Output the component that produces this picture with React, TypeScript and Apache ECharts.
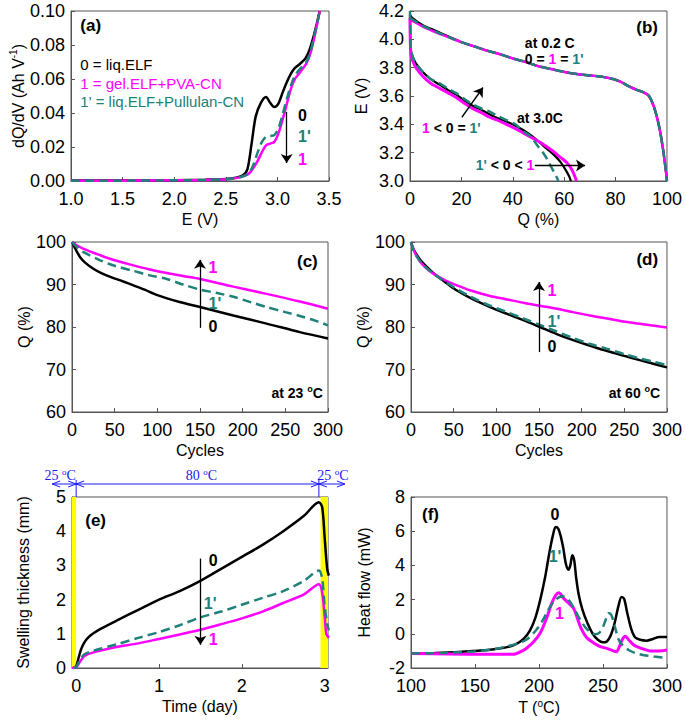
import React, { useEffect, useRef } from 'react';
import * as echarts from 'echarts';

const FONT = 'Arial, "Liberation Sans", Helvetica, sans-serif';
const SERIF = '"Times New Roman", "Liberation Serif", serif';
const BLACK = '#000000';
const MAGENTA = '#FF00FF';
const TEAL = '#20807A';
const AXIS = '#555555';
const BLUE = '#1A1AF0';

// (a) dQ/dV vs E
const aBlack = [[1.0,0.0003],[1.5,0.0003],[2.0,0.0005],[2.3,0.0008],[2.5,0.0012],[2.6,0.002],[2.67,0.0035],[2.71,0.007],[2.75,0.022],[2.79,0.038],[2.84,0.046],[2.89,0.0494],[2.93,0.046],[2.97,0.0435],[3.01,0.0455],[3.05,0.052],[3.09,0.058],[3.13,0.063],[3.17,0.0665],[3.22,0.069],[3.27,0.072],[3.31,0.077],[3.35,0.085],[3.38,0.092],[3.41,0.1]];
const aMagenta = [[1.0,0.0002],[1.5,0.0002],[2.0,0.0004],[2.3,0.0006],[2.5,0.001],[2.6,0.0017],[2.68,0.003],[2.73,0.0047],[2.77,0.008],[2.81,0.012],[2.85,0.017],[2.89,0.021],[2.93,0.022],[2.97,0.023],[3.01,0.028],[3.05,0.036],[3.09,0.045],[3.13,0.054],[3.17,0.06],[3.22,0.064],[3.28,0.069],[3.32,0.075],[3.36,0.085],[3.39,0.094],[3.41,0.1]];
const aTeal = [[1.0,0.0002],[1.5,0.0002],[2.0,0.0004],[2.3,0.0006],[2.5,0.001],[2.6,0.0017],[2.68,0.003],[2.73,0.005],[2.77,0.01],[2.81,0.017],[2.85,0.023],[2.89,0.026],[2.93,0.0265],[2.97,0.027],[3.01,0.031],[3.05,0.039],[3.09,0.048],[3.13,0.056],[3.17,0.062],[3.22,0.066],[3.28,0.07],[3.32,0.076],[3.36,0.086],[3.39,0.094],[3.41,0.1]];

// (b) E vs Q, 0.2 C and 3.0 C
const b02Black = [[0,4.17],[1,4.15],[5,4.1],[10,4.06],[15,4.02],[20,3.98],[25,3.95],[30,3.92],[35,3.895],[40,3.865],[45,3.84],[50,3.81],[55,3.79],[60,3.77],[65,3.755],[70,3.745],[75,3.735],[79,3.72],[82,3.7],[85,3.67],[88,3.645],[91,3.625],[93,3.6],[95,3.52],[97,3.38],[98.5,3.22],[99.5,3.08],[100,3.0]];
const b02Magenta = [[0,4.14],[1,4.13],[5,4.09],[10,4.05],[15,4.015],[20,3.98],[25,3.95],[30,3.92],[35,3.895],[40,3.865],[45,3.84],[50,3.81],[55,3.79],[60,3.77],[65,3.755],[70,3.745],[75,3.735],[79,3.72],[82,3.7],[85,3.67],[88,3.645],[91,3.625],[93,3.6],[95,3.52],[97,3.38],[98.5,3.22],[99.5,3.08],[100,3.0]];
const b02Teal = [[0,4.15],[1,4.14],[5,4.095],[10,4.055],[15,4.015],[20,3.98],[25,3.95],[30,3.92],[35,3.895],[40,3.865],[45,3.84],[50,3.81],[55,3.79],[60,3.77],[65,3.755],[70,3.745],[75,3.735],[79,3.72],[82,3.7],[85,3.67],[88,3.645],[91,3.625],[93,3.6],[95,3.52],[97,3.38],[98.5,3.22],[99.5,3.08],[100,3.0]];
const b30Black = [[0,4.18],[0.3,3.93],[1,3.88],[2.3,3.83],[5,3.77],[8,3.72],[11.5,3.68],[15,3.64],[18,3.61],[21,3.57],[24.5,3.53],[28,3.5],[31,3.47],[34,3.445],[37.5,3.42],[41,3.39],[44,3.36],[48,3.31],[51.8,3.25],[55.7,3.19],[58.3,3.14],[60.5,3.08],[62,3.03],[62.6,3.0]];
const b30Magenta = [[0,4.15],[0.3,3.9],[1,3.85],[2.3,3.8],[5,3.74],[8,3.69],[11.5,3.655],[15,3.62],[18,3.59],[21,3.55],[24.5,3.51],[28,3.48],[31,3.45],[34,3.43],[37.5,3.4],[41,3.37],[44,3.34],[48,3.3],[51.8,3.26],[55.7,3.21],[58.3,3.17],[61,3.13],[63,3.08],[64.2,3.03],[64.8,3.0]];
const b30Teal = [[0,4.2],[0.3,3.94],[1,3.88],[2.3,3.83],[5,3.77],[8,3.72],[11.5,3.69],[15,3.65],[18,3.62],[21,3.58],[24.5,3.54],[28,3.51],[31,3.49],[34,3.46],[37.5,3.43],[41,3.4],[44,3.35],[46,3.33],[48,3.29],[50,3.24],[51.8,3.2],[53.5,3.15],[55.5,3.08],[57,3.03],[57.7,3.0]];

// (c) Q vs cycles at 23 C
const cBlack = [[0,100],[3,98.8],[6,97.6],[10,96.3],[15,95.2],[25,93.7],[35,92.6],[45,91.8],[60,90.7],[72,89.8],[85,88.8],[100,87.5],[126,85.9],[150,84.7],[189,82.7],[228,80.8],[267,78.8],[300,77.3]];
const cMagenta = [[0,100],[5,99.3],[13.6,98.4],[33,96.9],[50,95.7],[72,94.5],[90,93.6],[111,92.7],[130,92.0],[150,91.3],[189,89.5],[228,87.8],[267,86.0],[300,84.3]];
const cTeal = [[0,100],[5,98.9],[13.6,97.6],[33,95.7],[50,94.4],[72,93.2],[90,92.2],[111,91.3],[130,90.0],[150,88.8],[170,88.0],[189,87.1],[210,85.8],[228,84.7],[250,83.5],[267,82.6],[285,81.5],[300,80.4]];

// (d) Q vs cycles at 60 C
const dBlack = [[0,100],[3,98.3],[7,96.9],[12,95.5],[18.7,94.1],[26,92.7],[34.3,91.4],[45,89.8],[53.8,88.6],[70,86.8],[92.7,84.7],[110,83.3],[131.7,81.6],[151,80.0],[170,78.4],[190,76.9],[210,75.6],[229,74.4],[250,73.2],[268,72.2],[285,71.3],[300,70.5]];
const dMagenta = [[0,100],[3,98.2],[6,96.9],[10.9,95.3],[18,93.8],[26.5,92.5],[40,91.0],[53.8,89.8],[70,88.6],[92.7,87.3],[110,86.6],[131.7,85.7],[151,85.0],[170.6,84.3],[190,83.5],[209.6,82.7],[230,82.0],[248.5,81.3],[270,80.7],[300,79.9]];
const dTeal = [[0,100],[3,97.9],[7,96.5],[12,95.2],[18.7,93.8],[26,92.6],[34.3,91.4],[45,90.0],[53.8,88.9],[70,87.1],[92.7,85.0],[110,83.7],[131.7,82.0],[151,80.5],[170,79.0],[190,77.4],[210,76.0],[229,74.9],[250,73.6],[268,72.6],[285,71.8],[300,71.0]];

// (e) swelling thickness vs time
const eBlack = [[-0.03,0],[0,0.05],[0.03,0.3],[0.06,0.55],[0.1,0.75],[0.15,0.9],[0.2,1.0],[0.3,1.15],[0.5,1.4],[0.75,1.7],[1.0,2.0],[1.25,2.25],[1.5,2.55],[1.75,2.9],[2.0,3.25],[2.25,3.6],[2.5,4.0],[2.75,4.45],[2.93,4.85],[2.97,4.7],[3.0,3.8],[3.03,2.9],[3.05,2.7]];
const eMagenta = [[-0.05,0],[0,0.02],[0.05,0.2],[0.1,0.35],[0.2,0.45],[0.5,0.62],[0.75,0.72],[1.0,0.85],[1.25,0.98],[1.5,1.12],[1.75,1.28],[2.0,1.45],[2.25,1.65],[2.5,1.9],[2.75,2.15],[2.93,2.45],[2.97,2.2],[3.0,1.5],[3.02,1.0],[3.05,0.88]];
const eTeal = [[-0.03,0],[0,0.03],[0.05,0.25],[0.1,0.4],[0.2,0.5],[0.5,0.7],[0.75,0.88],[1.0,1.05],[1.25,1.25],[1.5,1.48],[1.75,1.65],[2.0,1.85],[2.25,2.05],[2.5,2.25],[2.75,2.55],[2.93,2.85],[2.97,2.6],[3.0,1.8],[3.03,1.3],[3.05,1.1]];
const eHotBands = [[-0.05,0],[2.95,3.04]];

// (f) heat flow vs T
const fBlack = [[100,-1.15],[120,-1.12],[140,-1.05],[155,-0.98],[165,-0.9],[175,-0.78],[182,-0.6],[188,-0.3],[193,0.2],[197,0.9],[201,2.0],[205,3.4],[208,4.7],[211,5.8],[213,6.25],[215,6.15],[217,5.7],[219,5.0],[221,4.1],[223,3.75],[224.5,4.0],[226,4.6],[227.5,4.3],[229,3.3],[231,2.3],[234,1.4],[238,0.6],[242,0.0],[246,-0.35],[250,-0.5],[253,-0.45],[256,-0.1],[259,0.6],[262,1.6],[264.5,2.15],[266.5,2.05],[269,1.2],[272,0.3],[275,-0.2],[279,-0.35],[284,-0.4],[289,-0.3],[294,-0.18],[300,-0.18]];
const fMagenta = [[100,-1.15],[130,-1.18],[160,-1.2],[180,-1.2],[187,-1.0],[191,-0.8],[196,-0.45],[201,0.05],[206,0.92],[210,1.8],[213,2.25],[215.5,2.4],[219,2.1],[223,1.8],[227,1.5],[230,0.9],[233,0.3],[237,-0.2],[243,-0.55],[248,-0.75],[253,-0.85],[258,-1.0],[260.5,-1.05],[262.5,-0.8],[265,-0.35],[267.5,-0.15],[270,-0.35],[274,-0.65],[280,-0.85],[287,-1.0],[294,-1.0],[300,-0.95]];
const fTeal = [[100,-1.15],[125,-1.12],[149,-1.03],[165,-0.9],[175,-0.73],[184,-0.55],[191,-0.3],[198,0.24],[203,0.8],[208,1.5],[213,2.0],[218,2.2],[223,2.0],[228,1.4],[232,0.85],[236,0.4],[240,0.1],[244,-0.02],[247,0.05],[250,0.4],[252.5,0.9],[254.5,1.2],[256.5,1.1],[259,0.5],[262,-0.3],[265,-0.65],[270,-0.95],[275,-1.12],[282,-1.25],[290,-1.33],[300,-1.41]];

const grids = [
  { left: 71, top: 11, width: 258, height: 170 },
  { left: 410, top: 11, width: 257, height: 170 },
  { left: 72, top: 242, width: 256, height: 170 },
  { left: 411, top: 242, width: 256, height: 170 },
  { left: 72, top: 497, width: 256, height: 171 },
  { left: 411, top: 497, width: 256, height: 171 },
];

const SUP = { fontSize: 10, fontFamily: FONT, color: '#000', padding: [0, 0, 9, 0] };

function xAx(g: number, min: number, max: number, interval: number | null, name: string, fmt: ((v: number) => string) | null, custom?: number[]) {
  const ax: any = {
    type: 'value', gridIndex: g, min, max,
    name, nameLocation: 'middle', nameGap: 30,
    nameTextStyle: { fontSize: 16, fontFamily: FONT, color: '#000', rich: { sup: SUP } },
    axisLine: { show: true, onZero: false, lineStyle: { color: AXIS, width: 1 } },
    axisTick: { show: true, inside: true, length: 4, lineStyle: { color: AXIS } },
    axisLabel: { fontSize: 18, fontFamily: FONT, color: '#000', margin: 9 },
    splitLine: { show: false },
  };
  if (interval !== null) ax.interval = interval;
  if (fmt) ax.axisLabel.formatter = fmt;
  if (custom) {
    ax.axisLabel.customValues = custom;
    ax.axisTick.customValues = custom;
  }
  return ax;
}
function yAx(g: number, min: number, max: number, interval: number, name: string, fmt: ((v: number) => string) | null, gap: number) {
  const ax: any = {
    type: 'value', gridIndex: g, min, max, interval,
    name, nameLocation: 'middle', nameGap: gap, nameRotate: 90,
    nameTextStyle: { fontSize: 16, fontFamily: FONT, color: '#000', rich: { sup: SUP } },
    axisLine: { show: true, onZero: false, lineStyle: { color: AXIS, width: 1 } },
    axisTick: { show: true, inside: true, length: 4, lineStyle: { color: AXIS } },
    axisLabel: { fontSize: 18, fontFamily: FONT, color: '#000', margin: 6 },
    splitLine: { show: false },
  };
  if (fmt) ax.axisLabel.formatter = fmt;
  return ax;
}

function line(g: number, data: number[][], color: string, dashed: boolean, width = 2.5, extra: any = {}) {
  return {
    type: 'line', xAxisIndex: g, yAxisIndex: g, data, showSymbol: false, symbol: 'none',
    smooth: 0.3, silent: true,
    lineStyle: { color, width, type: dashed ? [9, 5] : 'solid' },
    ...extra,
  };
}

const arrowStyle = {
  silent: true, symbol: ['none', 'arrow'], symbolSize: 9,
  lineStyle: { color: '#000', width: 1.3, type: 'solid' },
  label: { show: false },
};
function arrows(list: number[][][]) {
  return { ...arrowStyle, data: list.map(([p, q]) => [{ coord: p }, { coord: q }]) };
}

const notes: any[] = [
  { g: 0, x: 1.09, y: 0.0915, t: '(a)', c: BLACK, s: 17, b: true, al: 'left' },
  { g: 0, x: 1.09, y: 0.0688, t: '0 = liq.ELF', c: BLACK, s: 15, b: false, al: 'left' },
  { g: 0, x: 1.09, y: 0.0576, t: '1 = gel.ELF+PVA-CN', c: MAGENTA, s: 15, b: false, al: 'left' },
  { g: 0, x: 1.09, y: 0.0465, t: "1' = liq.ELF+Pullulan-CN", c: TEAL, s: 15, b: false, al: 'left' },
  { g: 0, x: 3.2, y: 0.0388, t: '0', c: BLACK, s: 16, b: true, al: 'left' },
  { g: 0, x: 3.2, y: 0.0259, t: "1'", c: TEAL, s: 16, b: true, al: 'left' },
  { g: 0, x: 3.2, y: 0.0124, t: '1', c: MAGENTA, s: 16, b: true, al: 'left' },
  { g: 1, x: 96.5, y: 4.087, t: '(b)', c: BLACK, s: 17, b: true, al: 'right' },
  { g: 1, x: 44.7, y: 3.974, t: 'at 0.2 C', c: BLACK, s: 14, b: true, al: 'left' },
  { g: 1, x: 44.7, y: 3.861, t: '{k|0 = }{m|1}{k| = }{t|1\'}', c: BLACK, s: 14, b: true, al: 'left', rich: true },
  { g: 1, x: 4.7, y: 3.374, t: '{m|1}{k| < 0 = }{t|1\'}', c: BLACK, s: 14, b: true, al: 'left', rich: true },
  { g: 1, x: 41.6, y: 3.445, t: 'at 3.0C', c: BLACK, s: 14, b: true, al: 'left' },
  { g: 1, x: 48.4, y: 3.113, t: '{t|1\'}{k| < 0 < }{m|1}', c: BLACK, s: 14, b: true, al: 'right', rich: true },
  { g: 2, x: 288, y: 95.3, t: '(c)', c: BLACK, s: 17, b: true, al: 'right' },
  { g: 2, x: 294, y: 64.5, t: 'at 23 {sup|o}C', c: BLACK, s: 14, b: true, al: 'right', rich: true },
  { g: 2, x: 160, y: 93.9, t: '1', c: MAGENTA, s: 16, b: true, al: 'left' },
  { g: 2, x: 160, y: 85.6, t: "1'", c: TEAL, s: 16, b: true, al: 'left' },
  { g: 2, x: 160, y: 80.2, t: '0', c: BLACK, s: 16, b: true, al: 'left' },
  { g: 3, x: 289.6, y: 95.8, t: '(d)', c: BLACK, s: 17, b: true, al: 'right' },
  { g: 3, x: 292, y: 64.5, t: 'at 60 {sup|o}C', c: BLACK, s: 14, b: true, al: 'right', rich: true },
  { g: 3, x: 160, y: 88.5, t: '1', c: MAGENTA, s: 16, b: true, al: 'left' },
  { g: 3, x: 160, y: 81.2, t: "1'", c: TEAL, s: 16, b: true, al: 'left' },
  { g: 3, x: 160, y: 75.3, t: '0', c: BLACK, s: 16, b: true, al: 'left' },
  { g: 4, x: 0.11, y: 4.31, t: '(e)', c: BLACK, s: 17, b: true, al: 'left' },
  { g: 4, x: 1.6, y: 3.15, t: '0', c: BLACK, s: 16, b: true, al: 'left' },
  { g: 4, x: 1.54, y: 1.9, t: "1'", c: TEAL, s: 16, b: true, al: 'left' },
  { g: 4, x: 1.6, y: 0.82, t: '1', c: MAGENTA, s: 16, b: true, al: 'left' },
  { g: 5, x: 108.6, y: 6.95, t: '(f)', c: BLACK, s: 17, b: true, al: 'left' },
  { g: 5, x: 212.5, y: 6.95, t: '0', c: BLACK, s: 16, b: true, al: 'center' },
  { g: 5, x: 212.5, y: 4.5, t: "1'", c: TEAL, s: 16, b: true, al: 'center' },
  { g: 5, x: 216, y: 1.2, t: '1', c: MAGENTA, s: 16, b: true, al: 'center' },
];

function buildOption() {
  const f2 = (v: number) => v.toFixed(2);
  const f1 = (v: number) => v.toFixed(1);
  return {
    animation: false,
    backgroundColor: '#ffffff',
    grid: grids.map(g => ({ ...g, show: true, borderColor: AXIS, borderWidth: 1, backgroundColor: 'transparent', containLabel: false })),
    xAxis: [
      xAx(0, 1.0, 3.5, 0.5, 'E (V)', f1),
      xAx(1, 0, 100, 20, 'Q (%)', null),
      xAx(2, 0, 300, 50, 'Cycles', null),
      xAx(3, 0, 300, 50, 'Cycles', null),
      xAx(4, -0.05, 3.04, null, 'Time (day)', null, [0, 1, 2, 3]),
      xAx(5, 100, 300, 50, 'T ({sup|o}C)', null),
    ],
    yAxis: [
      yAx(0, 0, 0.1, 0.02, 'dQ/dV (Ah V{sup|-1})', f2, 40),
      yAx(1, 3.0, 4.2, 0.2, 'E (V)', f1, 41),
      yAx(2, 60, 100, 10, 'Q (%)', null, 40),
      yAx(3, 60, 100, 10, 'Q (%)', null, 40),
      yAx(4, 0, 5, 1, 'Swelling thickness (mm)', null, 41),
      yAx(5, -2, 8, 2, 'Heat flow (mW)', null, 39),
    ],
    series: [
      line(0, aBlack, BLACK, false, 2.5, { markLine: arrows([[[3.09, 0.0406], [3.09, 0.0106]]]) }),
      line(0, aMagenta, MAGENTA, false),
      line(0, aTeal, TEAL, true),
      line(1, b02Black, BLACK, false, 2.2, { markLine: arrows([[[20.2, 3.45], [28.4, 3.66]], [[48.6, 3.11], [68.1, 3.11]]]) }),
      line(1, b02Magenta, MAGENTA, false),
      line(1, b02Teal, TEAL, true),
      line(1, b30Black, BLACK, false, 2.2),
      line(1, b30Magenta, MAGENTA, false, 3),
      line(1, b30Teal, TEAL, true),
      line(2, cBlack, BLACK, false, 2.5, { markLine: arrows([[[150, 79.8], [150, 95.8]]]) }),
      line(2, cMagenta, MAGENTA, false),
      line(2, cTeal, TEAL, true),
      line(3, dBlack, BLACK, false, 2.5, { markLine: arrows([[[150, 74.1], [150, 90.6]]]) }),
      line(3, dMagenta, MAGENTA, false),
      line(3, dTeal, TEAL, true),
      line(4, eBlack, BLACK, false, 2.5, {
        markLine: arrows([[[1.5, 3.2], [1.5, 0.68]]]),
        markArea: {
          silent: true, itemStyle: { color: '#FFFF00' },
          data: eHotBands.map(([a, b]) => [{ xAxis: a }, { xAxis: b }]),
        },
      }),
      line(4, eMagenta, MAGENTA, false),
      line(4, eTeal, TEAL, true),
      line(5, fBlack, BLACK, false, 2.5),
      line(5, fMagenta, MAGENTA, false, 3),
      line(5, fTeal, TEAL, true),
    ],
  };
}

export default function App() {
  const ref = useRef<HTMLDivElement>(null);
  useEffect(() => {
    document.body.style.margin = '0';
    const el = ref.current!;
    const chart = echarts.init(el, null, { renderer: 'svg' });
    chart.setOption(buildOption() as any);

    const gr: any[] = [];
    const richStyles = {
      k: { fill: BLACK, color: BLACK, fontSize: 14, fontWeight: 'bold', fontFamily: FONT },
      m: { fill: MAGENTA, color: MAGENTA, fontSize: 14, fontWeight: 'bold', fontFamily: FONT },
      t: { fill: TEAL, color: TEAL, fontSize: 14, fontWeight: 'bold', fontFamily: FONT },
      sup: { fill: BLACK, color: BLACK, fontSize: 9, fontWeight: 'bold', fontFamily: FONT, padding: [0, 0, 8, 0] },
    };
    for (const n of notes) {
      const p = chart.convertToPixel({ gridIndex: n.g } as any, [n.x, n.y]) as any;
      const style: any = {
        text: n.t, fill: n.c, fontSize: n.s, fontWeight: n.b ? 'bold' : 'normal', fontFamily: FONT,
        align: n.al, verticalAlign: 'middle',
      };
      if (n.rich) style.rich = richStyles;
      gr.push({ type: 'text', x: p[0], y: p[1], z: 100, silent: true, style });
    }

    // temperature program annotation above panel (e)
    const p0 = chart.convertToPixel({ gridIndex: 4 } as any, [0, 5]) as any;
    const p1 = chart.convertToPixel({ gridIndex: 4 } as any, [2.93, 5]) as any;
    const top = p0[1];
    const ly = top - 13;
    const x0 = p0[0], x1 = p1[0];
    const xl = x0 - 24, xr = x1 + 26;
    const bs = { stroke: BLUE, lineWidth: 1, fill: 'none' };
    gr.push({ type: 'line', silent: true, shape: { x1: xl, y1: ly, x2: xr, y2: ly }, style: bs });
    gr.push({ type: 'line', silent: true, shape: { x1: x0, y1: ly - 4, x2: x0, y2: top }, style: bs });
    gr.push({ type: 'line', silent: true, shape: { x1: x1, y1: ly - 4, x2: x1, y2: top }, style: bs });
    const head = (x: number, dir: number) => ({ type: 'polyline', silent: true, shape: { points: [[x + dir * 8, ly - 3], [x, ly], [x + dir * 8, ly + 3]] }, style: bs });
    gr.push(head(xl, 1), head(x0, -1), head(x0, 1), head(x1, -1), head(x1, 1), head(xr, -1));
    const tStyle = (txt: string, x: number) => ({
      type: 'text', silent: true, x, y: ly - 9,
      style: {
        text: txt, fill: BLUE, fontSize: 14, fontFamily: SERIF, align: 'center', verticalAlign: 'middle',
        rich: { s: { fill: BLUE, fontSize: 9, fontFamily: SERIF, padding: [0, 0, 7, 0] } },
      },
    });
    gr.push(tStyle('25 {s|o}C', x0 - 16));
    gr.push(tStyle('80 {s|o}C', (x0 + x1) / 2 + 4));
    gr.push(tStyle('25 {s|o}C', x1 + 14));

    chart.setOption({ graphic: gr } as any);
    return () => chart.dispose();
  }, []);
  return <div ref={ref} style={{ width: 685, height: 720 }} />;
}
